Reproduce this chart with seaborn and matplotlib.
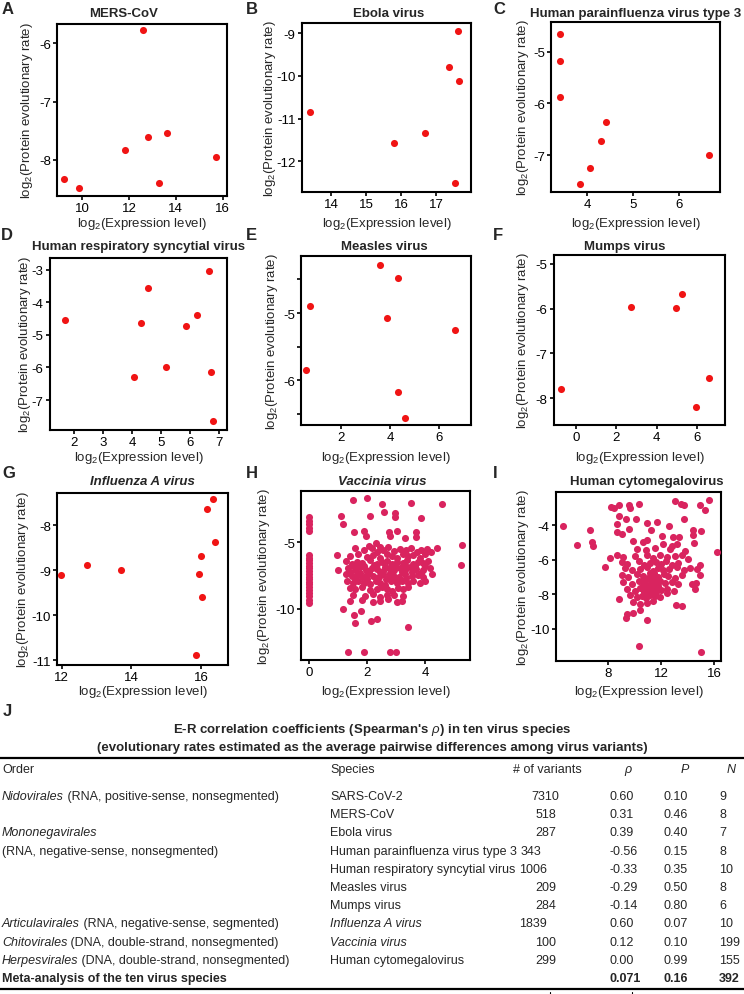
import pandas as pd
import seaborn as sns
import matplotlib.pyplot as plt

sns.set_style("ticks")
plt.rcParams['font.family'] = ['Liberation Sans', 'DejaVu Sans']
plt.rcParams['mathtext.fontset'] = 'custom'
plt.rcParams['mathtext.rm'] = 'Liberation Sans'
plt.rcParams['mathtext.it'] = 'Liberation Sans:italic'
plt.rcParams['mathtext.bf'] = 'Liberation Sans:bold'
plt.rcParams['axes.unicode_minus'] = False

RED = "#f01414"
PINK = "#d9245f"

# ---- panel data (log2 expression, log2 protein evolutionary rate) ----
mers_x = [9.21, 9.86, 11.83, 12.60, 12.80, 13.29, 13.63, 15.70]
mers_y = [-8.32, -8.49, -7.83, -5.78, -7.61, -8.39, -7.54, -7.95]

ebola_x = [13.41, 15.78, 16.68, 17.37, 17.63, 17.65, 17.52]
ebola_y = [-10.84, -11.57, -11.33, -9.80, -8.94, -10.13, -12.51]

hpiv3_x = [3.41, 3.41, 3.41, 3.85, 4.07, 4.29, 4.41, 6.66]
hpiv3_y = [-4.67, -5.19, -5.87, -7.55, -7.25, -6.73, -6.36, -6.99]

hrsv_x = [1.70, 4.07, 4.31, 4.54, 5.16, 5.85, 6.24, 6.66, 6.74, 6.81]
hrsv_y = [-4.55, -6.29, -4.62, -3.57, -5.98, -4.72, -4.38, -3.04, -6.14, -7.64]

measles_x = [0.57, 0.75, 3.58, 3.90, 4.35, 4.33, 4.63, 6.64]
measles_y = [-5.85, -4.89, -4.28, -5.07, -4.48, -6.18, -6.56, -5.26]

mumps_x = [-0.74, 2.72, 4.97, 5.28, 5.98, 6.63]
mumps_y = [-7.79, -5.96, -5.98, -5.67, -8.18, -7.54]

flu_x = [11.99, 12.74, 13.69, 15.84, 15.94, 16.00, 16.02, 16.17, 16.33, 16.39]
flu_y = [-9.11, -8.89, -8.99, -10.88, -9.09, -8.68, -9.59, -7.64, -7.42, -8.38]

vacv_x = ([0.0] * 23 +
          [1.52, 1.98, 2.50, 2.58, 2.96, 2.97, 3.49, 4.56, 1.09, 1.18, 2.10, 3.85, 1.56, 1.90,
           1.96, 2.75, 2.77, 3.02, 3.31, 3.67, 3.67, 2.31, 2.45, 2.07, 4.04, 4.39, 5.27, 5.22,
           0.97, 1.00, 1.18, 1.56, 1.58, 1.78, 2.12, 2.34, 3.39, 1.34, 1.89, 2.78, 3.00] +
          [1.58, 1.89, 2.15, 2.33, 2.55, 2.73, 2.92, 3.13, 3.32, 3.49, 3.70, 3.85, 4.20] +
          [1.41, 1.70, 1.98, 2.21, 2.44, 2.67, 2.85, 3.01, 3.22, 3.41, 3.59, 3.81, 3.99] +
          [1.29, 1.47, 1.64, 1.84, 2.10, 2.33, 2.50, 2.67, 2.84, 3.01, 3.24, 3.36, 3.59, 3.76, 3.91, 4.10] +
          [1.35, 1.58, 1.75, 1.96, 2.15, 2.35, 2.55, 2.74, 2.92, 3.13, 3.30, 3.47, 3.68, 3.91, 4.16] +
          [1.27, 1.47, 1.66, 1.81, 2.00, 2.21, 2.42, 2.55, 2.75, 2.90, 3.10, 3.30, 3.53, 3.73, 3.91, 4.22] +
          [1.32, 1.52, 1.70, 1.89, 2.10, 2.30, 2.44, 2.62, 2.81, 3.01, 3.20, 3.41, 3.59, 3.81, 4.00] +
          [1.41, 1.58, 1.81, 2.10, 2.33, 2.50, 2.67, 2.84, 3.07, 3.24, 3.41] +
          [1.52, 1.92, 2.21, 2.44, 2.67, 2.92, 3.24] +
          [1.41, 1.81, 2.21, 2.44, 2.73, 3.01, 3.18] +
          [1.55, 1.90, 2.25, 2.60, 2.95, 3.30, 3.65, 4.00] +
          [1.40, 1.75, 2.05, 2.45, 2.80, 3.20, 3.55, 3.85] +
          [1.60, 2.00, 2.35, 2.65, 2.95, 3.35])
vacv_y = ([-3.11, -3.36, -3.61, -3.94, -4.14, -5.96, -6.16, -6.36, -6.57, -6.77, -6.97, -7.17,
           -7.37, -7.58, -7.78, -7.98, -8.18, -8.38, -8.59, -8.84, -9.04, -9.34, -9.60] +
          [-1.79, -1.67, -2.10, -2.68, -2.78, -3.11, -2.05, -2.12, -2.98, -3.61, -3.03, -3.13, -4.19,
           -4.12, -4.55, -4.24, -4.55, -4.12, -4.70, -4.19, -4.62, -5.08, -5.38, -5.25, -5.51, -5.45,
           -5.20, -6.74, -5.96, -7.12, -10.05, -10.48, -11.06, -10.18, -10.91, -10.81, -11.36,
           -13.26, -13.26, -13.26, -13.26] +
          [-5.45, -5.60, -5.40, -5.70, -5.55, -5.35, -5.65, -5.50, -5.60, -5.40, -5.70, -5.55, -5.75] +
          [-6.05, -5.90, -6.10, -5.95, -6.15, -5.85, -6.00, -6.20, -5.90, -6.05, -5.95, -6.15, -5.85] +
          [-6.40, -6.60, -6.45, -6.55, -6.35, -6.65, -6.50, -6.40, -6.60, -6.45, -6.55, -6.35, -6.60,
           -6.45, -6.55, -6.40] +
          [-6.90, -7.05, -6.85, -7.10, -6.95, -7.00, -7.15, -6.90, -7.05, -6.95, -7.10, -6.85, -7.00,
           -7.10, -6.90] +
          [-7.40, -7.55, -7.45, -7.60, -7.35, -7.50, -7.60, -7.40, -7.55, -7.45, -7.60, -7.35, -7.50,
           -7.45, -7.60, -7.40] +
          [-7.95, -8.10, -7.90, -8.05, -8.15, -7.90, -8.05, -8.20, -7.95, -8.10, -7.90, -8.05, -7.95,
           -8.10, -7.90] +
          [-8.45, -8.55, -8.40, -8.60, -8.50, -8.40, -8.55, -8.65, -8.45, -8.50, -8.40] +
          [-8.95, -9.05, -8.90, -9.10, -9.00, -8.95, -9.05] +
          [-9.45, -9.35, -9.50, -9.40, -9.30, -9.50, -9.40] +
          [-6.75, -6.80, -6.70, -6.85, -6.75, -6.70, -6.80, -6.75] +
          [-7.25, -7.30, -7.20, -7.25, -7.30, -7.20, -7.25, -7.30] +
          [-7.75, -7.80, -7.70, -7.75, -7.80, -7.70])

hcmv_x = ([4.67, 5.72, 6.67, 6.82, 6.87, 7.77, 8.18, 8.23, 8.48, 8.88, 9.63, 9.68, 10.38, 8.73,
           8.83, 8.68, 9.08, 9.38, 9.58, 10.13, 10.93, 11.28, 11.73, 12.59, 12.09, 12.14, 13.04,
           13.49, 13.69, 13.76, 14.94, 15.62, 15.32, 15.02, 14.39, 14.39, 14.44, 16.20, 12.91,
           13.34, 13.19, 12.69, 12.86, 13.81, 13.99, 14.19, 14.69, 14.92, 14.94, 14.62, 14.34,
           14.52, 13.09, 13.54, 12.44, 9.43, 9.88, 9.38, 10.93, 10.43, 8.83, 10.38, 14.99] +
          [9.93, 10.63, 10.98] +
          [10.18, 10.88, 11.56] +
          [8.68, 9.18, 10.08, 10.93, 11.43, 11.93, 12.44, 13.06, 13.56] +
          [9.05, 9.43, 10.31, 10.73, 11.18, 11.61, 11.98, 12.39, 12.81, 13.31] +
          [9.30, 9.80, 10.43, 10.93, 11.38, 11.76, 12.14, 12.59, 13.19, 13.69] +
          [9.05, 9.55, 10.18, 10.63, 11.03, 11.43, 11.81, 12.19, 12.56, 13.06, 13.56] +
          [9.18, 9.80, 10.31, 10.68, 10.98, 11.31, 11.61, 11.93, 12.31, 12.81, 13.31] +
          [9.43, 10.06, 10.43, 10.73, 11.03, 11.33, 11.63, 11.98, 12.44, 12.94] +
          [9.68, 10.18, 10.56, 10.88, 11.18, 11.56, 11.93] +
          [9.93, 10.43, 10.93, 11.43] +
          [10.8, 11.1, 11.4, 11.7, 10.9, 11.2, 11.5, 11.8, 10.7, 11.0, 11.3, 11.6, 11.2, 11.5])
hcmv_y = ([-4.04, -5.14, -4.25, -4.97, -5.22, -6.44, -5.91, -2.92, -3.00, -2.84, -2.82, -3.01,
           -2.76, -3.90, -3.46, -4.39, -4.52, -3.65, -4.23, -3.65, -3.88, -4.29, -3.79, -4.04,
           -4.62, -5.06, -2.59, -2.74, -2.84, -3.65, -2.82, -2.53, -3.13, -4.33, -4.29, -4.58,
           -5.01, -5.55, -4.66, -4.68, -5.06, -5.39, -5.22, -5.49, -5.97, -6.46, -6.55, -6.32,
           -6.90, -7.37, -7.42, -7.71, -8.62, -8.68, -7.91, -9.18, -9.07, -9.36, -9.49, -8.91,
           -8.29, -11.00, -11.35] +
          [-4.90, -5.00, -4.85] +
          [-5.35, -5.45, -5.30] +
          [-5.75, -5.85, -5.80, -5.70, -5.90, -5.75, -5.85, -5.80, -5.70] +
          [-6.15, -6.25, -6.10, -6.30, -6.20, -6.15, -6.25, -6.10, -6.30, -6.20] +
          [-6.50, -6.60, -6.55, -6.45, -6.65, -6.50, -6.60, -6.55, -6.45, -6.60] +
          [-6.90, -7.00, -6.85, -6.95, -7.05, -6.90, -7.00, -6.85, -6.95, -7.05, -6.90] +
          [-7.30, -7.40, -7.25, -7.35, -7.45, -7.30, -7.40, -7.25, -7.35, -7.30, -7.40] +
          [-7.70, -7.80, -7.65, -7.75, -7.70, -7.80, -7.65, -7.75, -7.70, -7.80] +
          [-8.05, -8.15, -8.10, -8.20, -8.05, -8.10, -8.15] +
          [-8.45, -8.55, -8.50, -8.40] +
          [-7.15, -7.10, -7.20, -7.15, -7.55, -7.50, -7.60, -7.55, -7.90, -7.95, -7.85, -7.90,
           -6.75, -6.80])

# ---- table J ----
orders = ["Nidovirales", "", "Mononegavirales", "", "", "", "",
          "Articulavirales", "Chitovirales", "Herpesvirales"]
order_notes = [" (RNA, positive-sense, nonsegmented)", "", "",
               "(RNA, negative-sense, nonsegmented)", "", "", "",
               " (RNA, negative-sense, segmented)", " (DNA, double-strand, nonsegmented)",
               " (DNA, double-strand, nonsegmented)"]
species = ["SARS-CoV-2", "MERS-CoV", "Ebola virus", "Human parainfluenza virus type 3",
           "Human respiratory syncytial virus", "Measles virus", "Mumps virus",
           "Influenza A virus", "Vaccinia virus", "Human cytomegalovirus"]
species_italic = [False, False, False, False, False, False, False, True, True, False]
variants = ["7310", "518", "287", "343", "1006", "209", "284", "1839", "100", "299"]
rho = ["0.60", "0.31", "0.39", "-0.56", "-0.33", "-0.29", "-0.14", "0.60", "0.12", "0.00"]
pvals = ["0.10", "0.46", "0.40", "0.15", "0.35", "0.50", "0.80", "0.07", "0.10", "0.99"]
n_genes = ["9", "8", "7", "8", "10", "8", "6", "10", "199", "155"]
meta_row = ["0.071", "0.16", "392"]

W, H = 744, 995
fig = plt.figure(figsize=(W / 100, H / 100), dpi=100)

XLAB = r"log$_2$(Expression level)"
YLAB = r"log$_2$(Protein evolutionary rate)"

# letter, title, italic title, x, y, colour, box (l, t, r, b px), xlim, ylim, xticks, yticks,
# yticklabels, letter x, title x, ylabel x, row
panels = [
    ("A", "MERS-CoV", False, mers_x, mers_y, RED, (57, 25, 227, 197), (8.91, 16.19), (-8.62, -5.67),
     [10, 12, 14, 16], [-8, -7, -6], None, 2, 124, 27, 0),
    ("B", "Ebola virus", False, ebola_x, ebola_y, RED, (302, 24, 471, 193), (13.17, 17.99), (-12.72, -8.76),
     [14, 15, 16, 17], [-12, -11, -10, -9], None, 246, 389, 270, 0),
    ("C", "Human parainfluenza virus type 3", False, hpiv3_x, hpiv3_y, RED, (551, 23, 720, 193),
     (3.21, 6.89), (-7.71, -4.43), [4, 5, 6], [-7, -6, -5], None, 493, 636, 523, 0),
    ("D", "Human respiratory syncytial virus", False, hrsv_x, hrsv_y, RED, (50, 259, 227, 431),
     (1.17, 7.28), (-7.92, -2.64), [2, 3, 4, 5, 6, 7], [-7, -6, -5, -4, -3], None, 1, 139, 25, 1),
    ("E", "Measles virus", False, measles_x, measles_y, RED, (301, 257, 471, 426), (0.37, 7.31),
     (-6.67, -4.15), [2, 4, 6], [-6.5, -6, -5.5, -5, -4.5], ["", "-6", "", "-5", ""], 246, 384, 272, 1),
    ("F", "Mumps virus", False, mumps_x, mumps_y, RED, (554, 256, 725, 426), (-1.11, 7.41),
     (-8.59, -4.81), [0, 2, 4, 6], [-8, -7, -6, -5], None, 493, 625, 523, 1),
    ("G", "Influenza A virus", True, flu_x, flu_y, RED, (57, 494, 228, 666), (11.87, 16.77),
     (-11.1, -7.29), [12, 14, 16], [-11, -10, -9, -8], None, 2, 142, 23, 2),
    ("H", "Vaccinia virus", True, vacv_x, vacv_y, PINK, (301, 492, 470, 661), (-0.27, 5.53),
     (-13.89, -1.11), [0, 2, 4], [-10, -5], None, 246, 382, 264, 2),
    ("I", "Human cytomegalovirus", False, hcmv_x, hcmv_y, PINK, (556, 493, 721, 662), (4.12, 16.5),
     (-11.88, -2.07), [8, 12, 16], [-10, -8, -6, -4], None, 493, 647, 523, 2),
]
letter_y = [10, 235, 474]
title_y = [14, 247, 482]
xlabel_y = [224, 458, 692]

for (let, title, ital, xs, ys, col, box, xl, yl, xt, yt, ytl, lx, tx, ylx, row) in panels:
    l, t, r, b = box
    ax = fig.add_axes([l / W, 1 - b / H, (r - l) / W, (b - t) / H])
    df = pd.DataFrame({"x": xs, "y": ys})
    sns.scatterplot(data=df, x="x", y="y", color=col, s=26, linewidth=0, ax=ax, zorder=3)
    ax.set_xlim(*xl)
    ax.set_ylim(*yl)
    ax.set_xticks(xt)
    ax.set_yticks(yt)
    if ytl is not None:
        ax.set_yticklabels(ytl)
    for sp in ax.spines.values():
        sp.set_linewidth(1.5)
        sp.set_color("black")
    ax.tick_params(axis="both", direction="out", length=3, width=1.2, pad=1.5,
                   labelsize=9.5, colors="black")
    ax.set_xlabel(XLAB, fontsize=9.5, va="center")
    ax.set_ylabel(YLAB, fontsize=9.5, va="center")
    ax.xaxis.set_label_coords(0.5, (b - xlabel_y[row]) / (b - t))
    ax.yaxis.set_label_coords((ylx - l) / (r - l), 0.5)
    fig.text(tx / W, 1 - title_y[row] / H, title, ha="center", va="center", fontsize=9.5,
             fontweight="bold", style="italic" if ital else "normal")
    fig.text(lx / W, 1 - letter_y[row] / H, let, ha="left", va="center", fontsize=12,
             fontweight="bold")

# ---- table drawn in pixel coordinates ----
tab = fig.add_axes([0, 0, 1, 1])
tab.set_xlim(0, W)
tab.set_ylim(H, 0)
tab.axis("off")
renderer = fig.canvas.get_renderer()
FS = 9


def put_parts(x, y, parts):
    for txt, sty, wt in parts:
        if not txt:
            continue
        t = tab.text(x, y, txt, ha="left", va="center", fontsize=FS, style=sty, fontweight=wt)
        x += t.get_window_extent(renderer).width


tab.text(3, 712, "J", ha="left", va="center", fontsize=12, fontweight="bold")
tab.text(W / 2, 730, r"E-R correlation coefficients (Spearman's $\rho$) in ten virus species",
         ha="center", va="center", fontsize=9.5, fontweight="bold")
tab.text(W / 2, 748, "(evolutionary rates estimated as the average pairwise differences among virus variants)",
         ha="center", va="center", fontsize=9.5, fontweight="bold")
tab.plot([0, W], [759, 759], color="black", lw=1.6)
tab.plot([0, W], [990, 990], color="black", lw=1.6)
tab.plot([550, 550], [993, 995], color="black", lw=0.8)
tab.plot([632, 632], [993, 995], color="black", lw=0.8)

SPX = 330
head_y = 770
tab.text(2, head_y, "Order", ha="left", va="center", fontsize=FS)
tab.text(SPX, head_y, "Species", ha="left", va="center", fontsize=FS)
tab.text(547, head_y, "# of variants", ha="center", va="center", fontsize=FS)
tab.text(628, head_y, "ρ", ha="center", va="center", fontsize=FS, style="italic")
tab.text(685, head_y, "P", ha="center", va="center", fontsize=FS, style="italic")
tab.text(731, head_y, "N", ha="center", va="center", fontsize=FS, style="italic")

var_cx = [545, 546, 546, 531, 533, 546, 546, 533, 546, 546]
for i in range(len(species)):
    y = 797 + 18.2 * i
    put_parts(2, y, [(orders[i], "italic", "normal"), (order_notes[i], "normal", "normal")])
    tab.text(SPX, y, species[i], ha="left", va="center", fontsize=FS,
             style="italic" if species_italic[i] else "normal")
    tab.text(var_cx[i], y, variants[i], ha="center", va="center", fontsize=FS)
    tab.text(609, y, rho[i], ha="left", va="center", fontsize=FS)
    tab.text(664, y, pvals[i], ha="left", va="center", fontsize=FS)
    tab.text(719, y, n_genes[i], ha="left", va="center", fontsize=FS)

y = 797 + 18.2 * len(species)
tab.text(2, y, "Meta-analysis of the ten virus species", ha="left", va="center", fontsize=FS,
         fontweight="bold")
tab.text(609, y, meta_row[0], ha="left", va="center", fontsize=FS, fontweight="bold")
tab.text(664, y, meta_row[1], ha="left", va="center", fontsize=FS, fontweight="bold")
tab.text(719, y, meta_row[2], ha="left", va="center", fontsize=FS, fontweight="bold")

fig.savefig("out.png", dpi=100)
